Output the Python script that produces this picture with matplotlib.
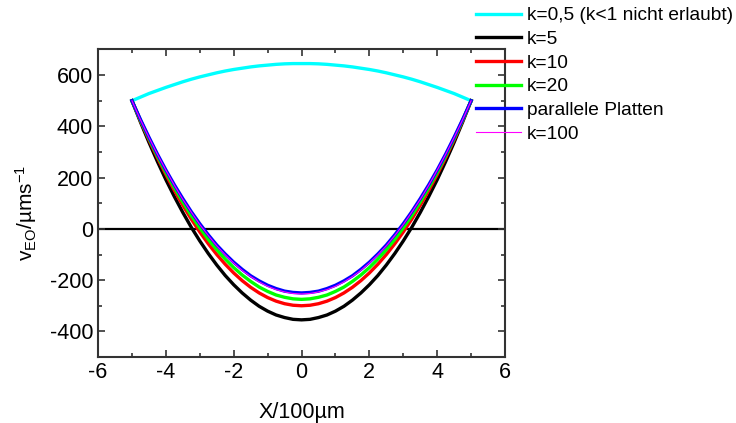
import matplotlib
matplotlib.use('Agg')
import matplotlib.pyplot as plt
from matplotlib.ticker import MultipleLocator

plt.rcParams['font.family'] = ['Liberation Sans', 'DejaVu Sans']
plt.rcParams['mathtext.fontset'] = 'custom'
plt.rcParams['mathtext.rm'] = 'Liberation Sans'
plt.rcParams['mathtext.it'] = 'Liberation Sans'
plt.rcParams['axes.unicode_minus'] = False

# x positions (in 100 um) and velocity values
x = [-5.0, -4.75, -4.5, -4.25, -4.0, -3.75, -3.5, -3.25, -3.0, -2.75,
     -2.5, -2.25, -2.0, -1.75, -1.5, -1.25, -1.0, -0.75, -0.5, -0.25,
     0.0,
     0.25, 0.5, 0.75, 1.0, 1.25, 1.5, 1.75, 2.0, 2.25, 2.5,
     2.75, 3.0, 3.25, 3.5, 3.75, 4.0, 4.25, 4.5, 4.75, 5.0]

v_k05 = [500, 514, 528, 540, 552, 563, 574, 584, 593, 601,
         609, 616, 622, 627, 632, 636, 639, 642, 644, 645,
         645,
         645, 644, 642, 639, 636, 632, 627, 622, 616, 609,
         601, 593, 584, 574, 563, 552, 540, 528, 514, 500]
v_k5 = [500, 417, 338, 263, 192, 126, 64, 6, -47, -96,
        -141, -182, -218, -250, -278, -302, -321, -336, -346, -353,
        -355,
        -353, -346, -336, -321, -302, -278, -250, -218, -182, -141,
        -96, -47, 6, 64, 126, 192, 263, 338, 417, 500]
v_k10 = [500, 422, 348, 278, 212, 150, 92, 38, -12, -58,
         -100, -138, -172, -202, -228, -250, -268, -282, -292, -298,
         -300,
         -298, -292, -282, -268, -250, -228, -202, -172, -138, -100,
         -58, -12, 38, 92, 150, 212, 278, 348, 422, 500]
v_k20 = [500, 424, 353, 285, 221, 161, 105, 52, 4, -41,
         -81, -118, -151, -180, -205, -227, -244, -258, -267, -273,
         -275,
         -273, -267, -258, -244, -227, -205, -180, -151, -118, -81,
         -41, 4, 52, 105, 161, 221, 285, 353, 424, 500]
v_plates = [500, 427, 358, 292, 230, 172, 118, 67, 20, -23,
            -63, -98, -130, -158, -183, -203, -220, -233, -243, -248,
            -250,
            -248, -243, -233, -220, -203, -183, -158, -130, -98, -63,
            -23, 20, 67, 118, 172, 230, 292, 358, 427, 500]
v_k100 = [500, 426, 357, 291, 229, 170, 115, 65, 17, -26,
          -66, -101, -133, -162, -186, -207, -224, -237, -246, -252,
          -254,
          -252, -246, -237, -224, -207, -186, -162, -133, -101, -66,
          -26, 17, 65, 115, 170, 229, 291, 357, 426, 500]

labels = ['k=0,5 (k<1 nicht erlaubt)', 'k=5', 'k=10', 'k=20',
          'parallele Platten', 'k=100']

fig = plt.figure(figsize=(7.36, 4.23), dpi=100)
ax = fig.add_axes([0.1332, 0.156, 0.553, 0.727])

ax.axhline(0, color='black', lw=1.6, zorder=1)
ax.plot(x, v_k05, color='#00ffff', lw=2.4, label=labels[0])
ax.plot(x, v_k5, color='black', lw=2.4, label=labels[1])
ax.plot(x, v_k10, color='red', lw=2.4, label=labels[2])
ax.plot(x, v_k20, color='#00ff00', lw=2.4, label=labels[3])
ax.plot(x, v_plates, color='blue', lw=2.4, label=labels[4])
ax.plot(x, v_k100, color='#ff00ff', lw=0.8, label=labels[5])

ax.set_xlim(-6, 6)
ax.set_ylim(-500, 700)
ax.xaxis.set_major_locator(MultipleLocator(2))
ax.xaxis.set_minor_locator(MultipleLocator(1))
ax.yaxis.set_major_locator(MultipleLocator(200))
ax.yaxis.set_minor_locator(MultipleLocator(100))
ax.set_yticks([-400, -200, 0, 200, 400, 600])
ax.tick_params(which='both', direction='in', top=True, right=True,
               labelsize=15.5, width=1.2, color='#333333')
ax.tick_params(which='major', length=5)
ax.tick_params(which='minor', length=3)
for s in ax.spines.values():
    s.set_linewidth(1.5)
    s.set_color('#333333')

ax.set_xlabel('X/100µm', fontsize=15.5, labelpad=14)
ax.set_ylabel(r'v$_{\mathrm{EO}}$/µms$^{\mathrm{-1}}$', fontsize=15, labelpad=5)
ax.yaxis.set_label_coords(-0.145, 0.47)

fig.legend(loc='upper left', bbox_to_anchor=(0.636, 1.002), frameon=False,
           fontsize=13.8, handlelength=2.35, handletextpad=0.3,
           labelspacing=0.33, borderaxespad=0)

fig.savefig('out.png', dpi=100)
